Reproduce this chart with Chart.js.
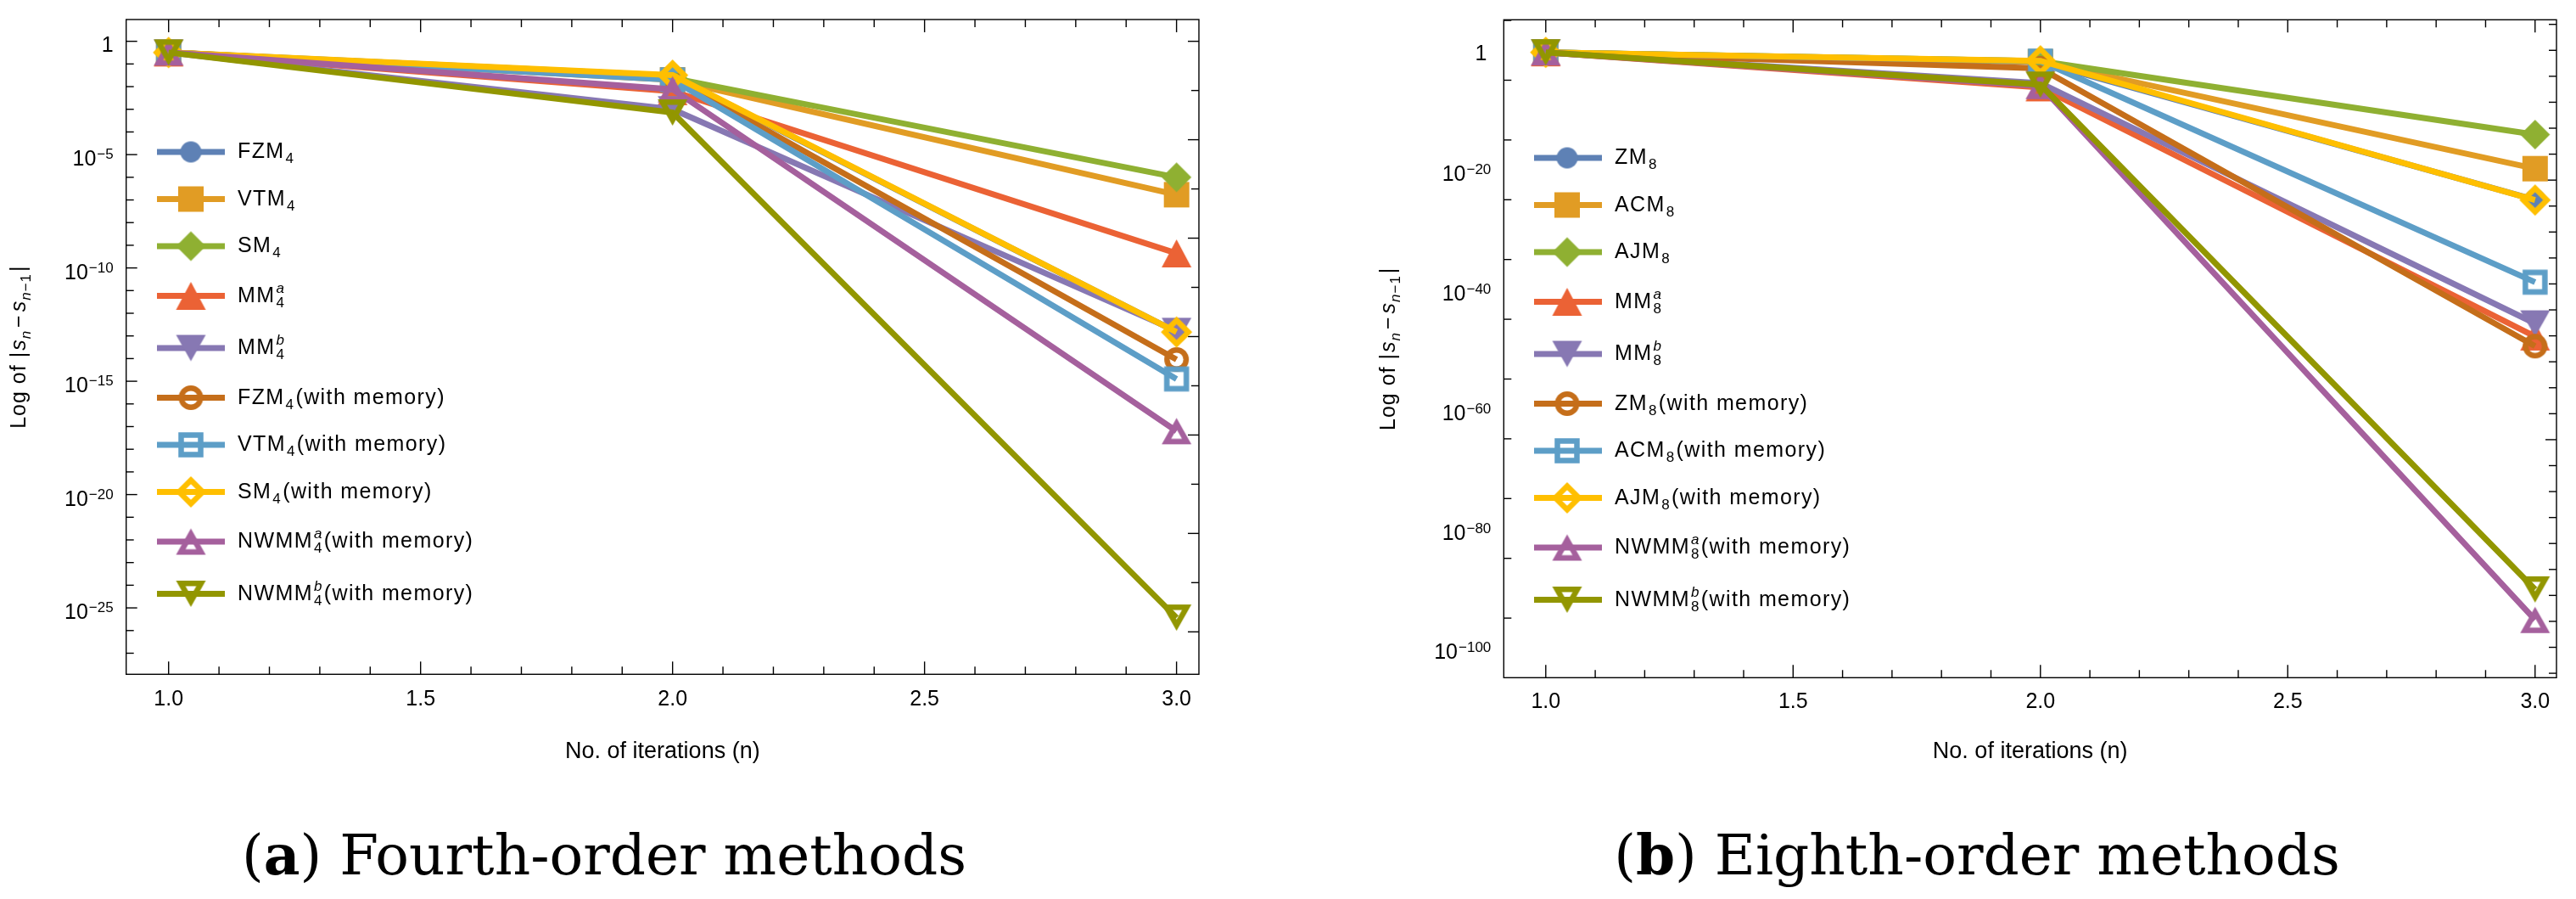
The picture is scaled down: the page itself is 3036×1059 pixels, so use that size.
<!DOCTYPE html>
<html>
<head>
<meta charset="utf-8">
<script src="https://cdn.jsdelivr.net/npm/chart.js@4.4.1/dist/chart.umd.min.js"></script>
<style>
  html, body { margin:0; padding:0; background:#ffffff; }
  body { width:3036px; height:1059px; position:relative; overflow:hidden; }
  canvas { position:absolute; top:0; }
  #chartA { left:0; }
  #chartB { left:1518px; }
  .caption { position:absolute; top:974px; font-family:"DejaVu Serif", serif; font-size:66px; line-height:66px; color:#000; white-space:nowrap; transform:translateX(-50%); }
</style>
</head>
<body>
<canvas id="chartA" width="1518" height="940"></canvas>
<canvas id="chartB" width="1518" height="940"></canvas>
<div class="caption" style="left:712px">(<b>a</b>) Fourth-order methods</div>
<div class="caption" style="left:2330px">(<b>b</b>) Eighth-order methods</div>
<script>
// ---------------- data ----------------
const iterations = [1, 2, 3];

// (a) Fourth-order methods
const namesA = ['FZM_4', 'VTM_4', 'SM_4', 'MM_4^a', 'MM_4^b',
  'FZM_4(with memory)', 'VTM_4(with memory)', 'SM_4(with memory)',
  'NWMM_4^a(with memory)', 'NWMM_4^b(with memory)'];
const FZM4    = [0.32, 3.0e-2, 1.5e-13];
const VTM4    = [0.32, 2.0e-2, 1.7e-7];
const SM4     = [0.32, 2.4e-2, 1.0e-6];
const MM4a    = [0.32, 6.3e-3, 4.4e-10];
const MM4b    = [0.32, 1.0e-3, 1.66e-13];
const FZM4mem = [0.32, 2.5e-2, 9.1e-15];
const VTM4mem = [0.32, 2.0e-2, 1.26e-15];
const SM4mem  = [0.32, 3.2e-2, 1.48e-13];
const NWMM4a  = [0.32, 7.6e-3, 6.3e-18];
const NWMM4b  = [0.32, 7.2e-4, 3.7e-26];
const yLabelExpA = [0, -5, -10, -15, -20, -25];

// (b) Eighth-order methods
const namesB = ['ZM_8', 'ACM_8', 'AJM_8', 'MM_8^a', 'MM_8^b',
  'ZM_8(with memory)', 'ACM_8(with memory)', 'AJM_8(with memory)',
  'NWMM_8^a(with memory)', 'NWMM_8^b(with memory)'];
const ZM8     = [0.46, 1.12e-2, 1.0e-25];
const ACM8    = [0.46, 1.26e-2, 1.6e-20];
const AJM8    = [0.46, 1.58e-2, 7.9e-15];
const MM8a    = [0.46, 6.3e-7, 1.3e-48];
const MM8b    = [0.46, 3.2e-6, 2.0e-46];
const ZM8mem  = [0.46, 1.0e-3, 3.2e-50];
const ACM8mem = [0.46, 1.58e-2, 1.6e-39];
const AJM8mem = [0.46, 1.74e-2, 8.9e-26];
const NWMM8a  = [0.46, 1.1e-6, 5.0e-96];
const NWMM8b  = [0.46, 1.8e-6, 6.3e-91];
const yLabelExpB = [0, -20, -40, -60, -80, -100];

const xTickLabels = ['1.0', '1.5', '2.0', '2.5', '3.0'];
const xMajorTicks = [1.0, 1.5, 2.0, 2.5, 3.0];

// ---------------- style ----------------
const FONT = '"Liberation Sans", Arial, sans-serif';
const COLORS = ['#5E81B5','#E19C24','#8FB032','#EB6235','#8778B3','#C56E1A','#5D9EC7','#FFBF00','#A5609D','#929600'];
const SHAPES = ['circle','rect','diamond','up','down','circle','rect','diamond','up','down'];
const FILLED = [true,true,true,true,true,false,false,false,false,false];
const FILLED_SIZE = {circle:[25,25], rect:[30,30], diamond:[35,35], up:[35,33], down:[35,31]};
const HOLLOW_SIZE = {circle:[29,29], rect:[29.5,29.5], diamond:[37,37], up:[35,31], down:[35,31]};
const HOLLOW_STROKE = 6.5;

function polygon(shape, w, h, cx, cy) {
  if (shape === 'rect') return [[cx-w/2,cy-h/2],[cx+w/2,cy-h/2],[cx+w/2,cy+h/2],[cx-w/2,cy+h/2]];
  if (shape === 'diamond') return [[cx,cy-h/2],[cx+w/2,cy],[cx,cy+h/2],[cx-w/2,cy]];
  if (shape === 'up') return [[cx,cy-h/2],[cx+w/2,cy+h/2],[cx-w/2,cy+h/2]];
  return [[cx-w/2,cy-h/2],[cx+w/2,cy-h/2],[cx,cy+h/2]];
}
function insetPolygon(pts, d) {
  const n = pts.length;
  let area = 0, per = 0, ix = 0, iy = 0, wsum = 0;
  for (let i = 0; i < n; i++) {
    const p = pts[i], q = pts[(i+1)%n];
    area += p[0]*q[1] - q[0]*p[1];
    per += Math.hypot(q[0]-p[0], q[1]-p[1]);
  }
  area = Math.abs(area)/2;
  const r = 2*area/per;
  if (n === 3) {
    for (let i = 0; i < 3; i++) {
      const b = pts[(i+1)%3], c = pts[(i+2)%3];
      const len = Math.hypot(c[0]-b[0], c[1]-b[1]);
      ix += len*pts[i][0]; iy += len*pts[i][1]; wsum += len;
    }
    ix /= wsum; iy /= wsum;
  } else {
    pts.forEach(p => { ix += p[0]; iy += p[1]; }); ix /= n; iy /= n;
  }
  const k = (r - d)/r;
  return pts.map(p => [ix + (p[0]-ix)*k, iy + (p[1]-iy)*k]);
}
function tracePath(g, pts) {
  g.beginPath(); g.moveTo(pts[0][0], pts[0][1]);
  for (let i = 1; i < pts.length; i++) g.lineTo(pts[i][0], pts[i][1]);
  g.closePath();
}
function makeMarker(shape, color, filled) {
  const [w, h] = (filled ? FILLED_SIZE : HOLLOW_SIZE)[shape];
  const cw = Math.ceil(w) + 2, ch = Math.ceil(h) + 2;
  const c = document.createElement('canvas'); c.width = cw; c.height = ch;
  const g = c.getContext('2d'); const cx = cw/2, cy = ch/2;
  g.fillStyle = color;
  if (shape === 'circle') {
    g.beginPath(); g.arc(cx, cy, w/2, 0, 2*Math.PI); g.fill();
    if (!filled) { g.globalCompositeOperation = 'destination-out'; g.beginPath(); g.arc(cx, cy, w/2 - HOLLOW_STROKE, 0, 2*Math.PI); g.fill(); }
  } else {
    const pts = polygon(shape, w, h, cx, cy);
    tracePath(g, pts); g.fill();
    if (!filled) { g.globalCompositeOperation = 'destination-out'; tracePath(g, insetPolygon(pts, HOLLOW_STROKE)); g.fill(); }
  }
  return c;
}
const MARKERS = SHAPES.map((s, i) => makeMarker(s, COLORS[i], FILLED[i]));

// ---------------- text helpers ----------------
function parseLabel(s) {
  const m = s.match(/^([^_]+)_(\w)(\^(\w))?(.*)$/);
  return {base: m[1], sub: m[2], sup: m[4] || '', tail: m[5]};
}
function drawLabel(ctx, s, x, y) {
  const p = parseLabel(s);
  const MAIN = '25px ' + FONT, SUB = '17px ' + FONT;
  ctx.save();
  ctx.letterSpacing = '1.4px';
  ctx.textAlign = 'left'; ctx.textBaseline = 'alphabetic'; ctx.fillStyle = '#000';
  ctx.font = MAIN; ctx.fillText(p.base, x, y); x += ctx.measureText(p.base).width;
  ctx.font = SUB; ctx.fillText(p.sub, x + 1, y + 6); let w = ctx.measureText(p.sub).width;
  if (p.sup) { ctx.font = 'italic ' + SUB; ctx.fillText(p.sup, x + 1, y - 11); w = Math.max(w, ctx.measureText(p.sup).width); }
  x += w + 2;
  if (p.tail) { ctx.font = MAIN; ctx.fillText(p.tail, x, y); }
  ctx.restore();
}
function drawYTitle(ctx, bx, cy) {
  const M = '25px ' + FONT, MI = 'italic 25px ' + FONT, S = '17px ' + FONT, SI = 'italic 17px ' + FONT;
  const parts = [['Log of |', M, 0, 1], ['s', MI, 0, 0], ['n', SI, 6, 3], ['\u2212', M, 0, 3], ['s', MI, 0, 0], ['n', SI, 6, 0], ['\u22121', S, 6, 2], ['|', M, 0, 0]];
  ctx.save(); ctx.letterSpacing = '1px';
  let total = 0;
  parts.forEach(p => { ctx.font = p[1]; p.w = ctx.measureText(p[0]).width; total += p.w + p[3]; });
  ctx.translate(bx, cy); ctx.rotate(-Math.PI/2);
  ctx.fillStyle = '#000'; ctx.textAlign = 'left'; ctx.textBaseline = 'alphabetic';
  let x = -total/2;
  parts.forEach(p => { ctx.font = p[1]; ctx.fillText(p[0], x, p[2]); x += p.w + p[3]; });
  ctx.restore();
}

// ---------------- chart builder ----------------
function buildChart(canvasId, spec) {
  const datasets = spec.series.map((vals, i) => ({
    label: spec.names[i],
    data: iterations.map((xv, j) => ({x: xv, y: vals[j]})),
    borderColor: COLORS[i], backgroundColor: COLORS[i],
    borderWidth: 7, pointStyle: MARKERS[i], pointRadius: 16, pointHoverRadius: 16,
    tension: 0, fill: false, order: spec.series.length - i, clip: false
  }));
  const decor = {
    id: 'decor',
    beforeDatasetsDraw(chart) {
      const ctx = chart.ctx, a = chart.chartArea, xs = chart.scales.x, ys = chart.scales.y;
      ctx.save(); ctx.strokeStyle = '#000'; ctx.lineWidth = 1.4;
      const seg = (x1, y1, x2, y2) => { ctx.beginPath(); ctx.moveTo(x1, y1); ctx.lineTo(x2, y2); ctx.stroke(); };
      xs.ticks.forEach(t => {
        const px = xs.getPixelForValue(t.value); const L = t.major ? 15 : 9;
        seg(px, a.bottom, px, a.bottom - L); seg(px, a.top, px, a.top + L);
      });
      ys.ticks.forEach(t => {
        const py = ys.getPixelForValue(t.value); const L = t.major ? 13 : 9;
        seg(a.left, py, a.left + L, py);
      });
      for (let k = spec.lnTop; k >= spec.lnBottom; k -= spec.lnStep) {
        const py = ys.getPixelForValue(Math.exp(k));
        const L = (((k - spec.lnMajorOffset) % spec.lnMajor) === 0) ? 13 : 9;
        seg(a.right, py, a.right - L, py);
      }
      ctx.restore();
    },
    afterDatasetsDraw(chart) {
      const ctx = chart.ctx, a = chart.chartArea, ys = chart.scales.y;
      ctx.save();
      ctx.strokeStyle = '#000'; ctx.lineWidth = 1.4;
      ctx.strokeRect(a.left, a.top, a.right - a.left, a.bottom - a.top);
      // y tick labels
      ctx.fillStyle = '#000'; ctx.textBaseline = 'alphabetic';
      spec.yLabelExp.forEach(e => {
        const py = ys.getPixelForValue(Math.pow(10, e));
        const xr = a.left - 15;
        if (e === 0) {
          ctx.font = '25px ' + FONT; ctx.textAlign = 'right'; ctx.fillText('1', a.left - spec.oneGap, py + 12);
        } else {
          const ex = '\u2212' + String(-e);
          ctx.font = '17px ' + FONT; ctx.textAlign = 'right'; ctx.fillText(ex, xr, py + 5);
          const ew = ctx.measureText(ex).width;
          ctx.font = '25px ' + FONT; ctx.fillText('10', xr - ew - 1, py + 13);
        }
      });
      drawYTitle(ctx, spec.titleX, (a.top + a.bottom)/2);
      // legend
      let y = spec.legY0, prevH = 0;
      spec.names.forEach((n, i) => {
        const h = n.includes('^') ? 61.5 : 55.5;
        if (i > 0) y += (prevH + h)/2;
        prevH = h;
        ctx.strokeStyle = COLORS[i]; ctx.lineWidth = 7; ctx.lineCap = 'butt';
        ctx.beginPath(); ctx.moveTo(spec.legX0, y); ctx.lineTo(spec.legX1, y); ctx.stroke();
        const m = MARKERS[i];
        ctx.drawImage(m, spec.legMX - m.width/2, y - m.height/2);
        drawLabel(ctx, n, spec.legTX, y + 7);
      });
      ctx.restore();
    }
  };
  return new Chart(document.getElementById(canvasId), {
    type: 'line',
    data: { datasets },
    options: {
      responsive: false, animation: false, devicePixelRatio: 1, events: [],
      layout: { padding: spec.padding },
      plugins: { legend: { display: false }, tooltip: { enabled: false } },
      scales: {
        x: {
          type: 'linear', position: 'bottom', min: spec.xMin, max: spec.xMax,
          afterBuildTicks: s => {
            const t = [];
            for (let k = 10; k <= 30; k++) {
              const v = k / 10;
              t.push({ value: v, major: xMajorTicks.some(m => Math.abs(m - v) < 1e-9) });
            }
            s.ticks = t;
          },
          ticks: {
            autoSkip: false, maxRotation: 0, minRotation: 0, padding: spec.xLabelPad, color: '#000',
            font: { family: FONT, size: 25 },
            callback: v => { const i = xMajorTicks.findIndex(m => Math.abs(m - v) < 1e-9); return i >= 0 ? xTickLabels[i] : ''; }
          },
          grid: { display: false, drawTicks: false }, border: { display: false },
          title: { display: true, text: 'No. of iterations (n)', color: '#000', font: { family: FONT, size: 27 }, padding: { top: 0, bottom: 38 } },
          afterFit: s => { s.height = spec.xAxisH; }
        },
        y: {
          type: 'logarithmic', min: spec.yMin, max: spec.yMax,
          afterBuildTicks: s => {
            const t = [];
            for (let e = Math.floor(Math.log10(spec.yMax)); e >= Math.ceil(Math.log10(spec.yMin)); e -= spec.yMinorStep) {
              t.push({ value: Math.pow(10, e), major: spec.yLabelExp.includes(e) });
            }
            s.ticks = t;
          },
          ticks: { display: false },
          grid: { display: false, drawTicks: false }, border: { display: false },
          afterFit: s => { s.width = spec.yAxisW; }
        }
      }
    },
    plugins: [decor]
  });
}

buildChart('chartA', {
  names: namesA,
  series: [FZM4, VTM4, SM4, MM4a, MM4b, FZM4mem, VTM4mem, SM4mem, NWMM4a, NWMM4b],
  yLabelExp: yLabelExpA, yMinorStep: 1,
  xMin: 0.9158, xMax: 3.0444, yMin: Math.pow(10, -27.93), yMax: Math.pow(10, 0.9605),
  padding: { left: 0, top: 12.3, right: 105, bottom: 0 }, yAxisW: 148.7, xAxisH: 145.7, xLabelPad: 15,
  lnTop: 0, lnBottom: -60, lnStep: 5, lnMajor: 10, lnMajorOffset: 0,
  oneGap: 15, titleX: 30,
  legY0: 179, legX0: 185, legX1: 265, legMX: 225, legTX: 280
});
buildChart('chartB', {
  names: namesB,
  series: [ZM8, ACM8, AJM8, MM8a, MM8b, ZM8mem, ACM8mem, AJM8mem, NWMM8a, NWMM8b],
  yLabelExp: yLabelExpB, yMinorStep: 10,
  xMin: 0.9151, xMax: 3.0433, yMin: Math.pow(10, -104.97), yMax: Math.pow(10, 5.11),
  padding: { left: 0, top: 23.3, right: 10.5, bottom: 0 }, yAxisW: 254.3, xAxisH: 141.7, xLabelPad: 14,
  lnTop: 10, lnBottom: -240, lnStep: 10, lnMajor: 100, lnMajorOffset: -50,
  oneGap: 20, titleX: 126,
  legY0: 186, legX0: 290, legX1: 370, legMX: 329, legTX: 385
});
</script>
</body>
</html>
